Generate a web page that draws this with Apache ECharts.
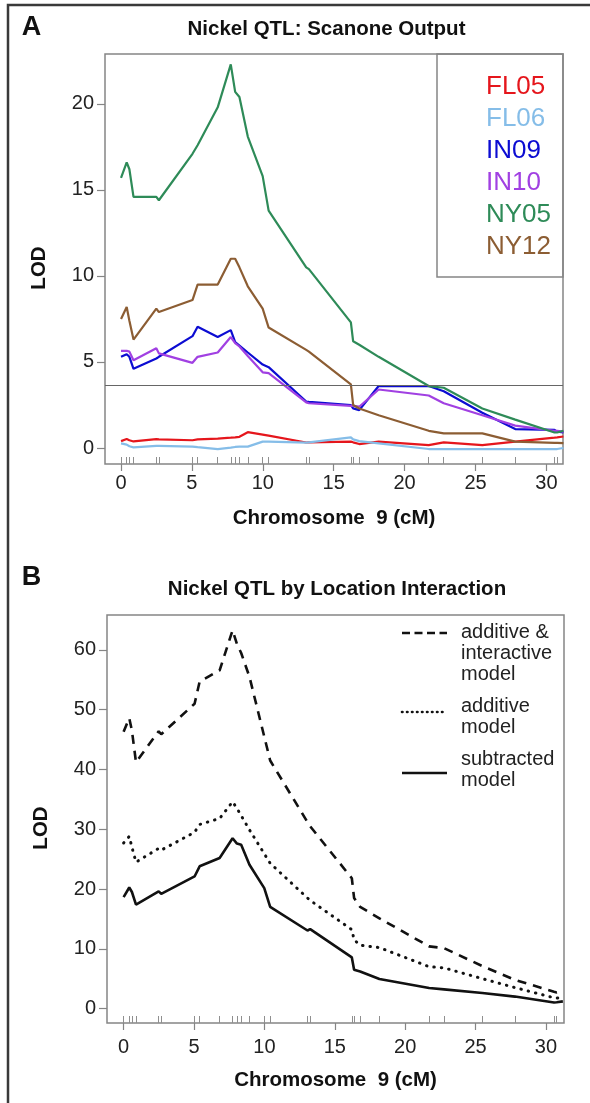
<!DOCTYPE html>
<html>
<head>
<meta charset="utf-8">
<script src="https://cdn.jsdelivr.net/npm/echarts@6.0.0/dist/echarts.min.js"></script>
<style>
    html,
    body {
        margin: 0;
        padding: 0;
        background: #fff;
    }
    #chart {
        width: 590px;
        height: 1103px;
    }
</style>
</head>
<body>
<div id="chart"></div>
<script>
// marker positions on chromosome 9 (cM), drawn as the rug
const markers = [0, 0.4, 0.59, 0.88, 2.49, 2.67, 5.04, 5.4, 6.82, 7.74, 8.05, 8.35, 8.94, 9.99, 10.41,
    13.06, 13.25, 16.21, 16.37, 16.8, 18.17, 21.7, 22.76, 25.48, 27.8, 30.57, 30.76]
// scan positions for the LOD curves
const positions = [0, 0.4, 0.59, 0.88, 2.49, 2.67, 5.04, 5.4, 6.82, 7.74, 8.05, 8.35, 8.94, 9.99, 10.41,
    13.06, 13.25, 16.21, 16.37, 16.8, 18.17, 21.7, 22.76, 25.48, 27.8, 30.57, 30.76, 31.2]

const xTicks = [0, 5, 10, 15, 20, 25, 30]
const yTicksA = [0, 5, 10, 15, 20]
const yTicksB = [0, 10, 20, 30, 40, 50, 60]
const threshold = 3.62

// panel A: scanone LOD per site
const FL05 = [0.4, 0.52, 0.45, 0.38, 0.52, 0.5, 0.45, 0.5, 0.55, 0.6, 0.62, 0.65, 0.92, 0.78, 0.72,
    0.32, 0.33, 0.37, 0.33, 0.23, 0.37, 0.17, 0.33, 0.17, 0.37, 0.6, 0.62, 0.67]
const FL06 = [0.27, 0.2, 0.1, 0.04, 0.12, 0.12, 0.08, 0.05, -0.06, 0.02, 0.06, 0.08, 0.08, 0.37, 0.37,
    0.31, 0.33, 0.62, 0.5, 0.4, 0.27, -0.06, -0.06, -0.06, -0.06, -0.06, -0.06, 0]
const IN09 = [5.3, 5.45, 5.3, 4.6, 5.2, 5.3, 6.5, 7.05, 6.45, 6.85, 6.15, 5.95, 5.55, 4.85, 4.7,
    2.7, 2.68, 2.5, 2.3, 2.2, 3.6, 3.6, 3.3, 2.05, 1.1, 1.05, 0.95, 0.9]
const IN10 = [5.65, 5.65, 5.6, 5.1, 5.8, 5.5, 4.95, 5.3, 5.55, 6.45, 6.1, 5.9, 5.35, 4.4, 4.35,
    2.65, 2.6, 2.45, 2.45, 2.4, 3.4, 3.05, 2.6, 1.9, 1.3, 1.0, 1.0, 0.95]
const NY05 = [15.7, 16.6, 16.2, 14.6, 14.6, 14.4, 17.1, 17.6, 19.8, 22.3, 20.7, 20.4, 18.1, 15.8, 13.8,
    10.5, 10.4, 7.3, 6.2, 6.0, 5.3, 3.6, 3.5, 2.3, 1.65, 0.9, 0.9, 1.0]
const NY12 = [7.5, 8.2, 7.4, 6.3, 8.1, 7.9, 8.6, 9.5, 9.5, 11.0, 11.0, 10.5, 9.4, 8.1, 7.0,
    5.7, 5.6, 3.7, 2.5, 2.3, 1.9, 1.0, 0.85, 0.85, 0.37, 0.3, 0.3, 0.28]

// panel B: QTL by location interaction
const additiveInteractive = [46.3, 48.6, 46.5, 41.2, 46.4, 45.9, 51.0, 54.7, 56.6, 63.3, 61.0, 59.5, 55.5, 45.5, 41.5,
    31.2, 30.5, 21.8, 18.5, 17.0, 15.1, 10.4, 10.1, 7.1, 4.8, 2.8, 2.7, 3.1]
const additive = [27.7, 28.8, 27.0, 24.5, 26.8, 26.5, 29.5, 30.8, 31.8, 34.6, 33.5, 32.3, 29.9, 25.9, 24.3,
    18.5, 18.1, 13.2, 11.5, 10.6, 10.2, 7.0, 6.8, 5.0, 3.5, 1.8, 1.75, 1.9]
const subtracted = [18.65, 20.25, 19.5, 17.4, 19.6, 19.2, 22.1, 23.8, 25.2, 28.5, 27.6, 27.4, 24.05, 20.15, 17.0,
    13.06, 13.3, 8.55, 6.5, 6.2, 4.93, 3.43, 3.2, 2.6, 2.0, 1.0, 1.05, 1.2]

const siteNames = ["FL05", "FL06", "IN09", "IN10", "NY05", "NY12"]
const siteColors = ["#e5161c", "#85bde8", "#0c0cd2", "#a140e2", "#2e8b58", "#8c5d33"]
const siteData = [FL05, FL06, IN09, IN10, NY05, NY12]

const FONT = '"Liberation Sans", Arial, Helvetica, sans-serif'
const AXIS_GREY = "#858585"

const pair = ys => positions.map((x, i) => [x, ys[i]])

function mainX(gridIndex, min, max, margin, nameGap) {
    return {
        type: "value",
        gridIndex: gridIndex,
        min: min,
        max: max,
        position: "bottom",
        axisLine: { show: false, onZero: false },
        splitLine: { show: false },
        axisTick: {
            show: true,
            length: 7,
            customValues: xTicks,
            lineStyle: { color: AXIS_GREY, width: 1.2 },
        },
        axisLabel: {
            customValues: xTicks,
            fontSize: 20,
            fontFamily: FONT,
            color: "#222",
            margin: margin,
        },
        name: "Chromosome  9 (cM)",
        nameLocation: "middle",
        nameGap: nameGap,
        nameTextStyle: { fontSize: 20.5, fontWeight: "bold", fontFamily: FONT, color: "#111" },
    }
}

// second x axis on the same grid, only used for the marker rug
function rugX(gridIndex, min, max) {
    return {
        type: "value",
        gridIndex: gridIndex,
        min: min,
        max: max,
        position: "bottom",
        axisLine: { show: false, onZero: false },
        splitLine: { show: false },
        axisLabel: { show: false },
        axisTick: {
            show: true,
            inside: true,
            length: 7,
            customValues: markers,
            lineStyle: { color: "#8f8f8f", width: 1 },
        },
    }
}

function mainY(gridIndex, min, max, ticks, nameGap) {
    return {
        type: "value",
        gridIndex: gridIndex,
        min: min,
        max: max,
        position: "left",
        axisLine: { show: false, onZero: false },
        splitLine: { show: false },
        axisTick: {
            show: true,
            length: 8,
            customValues: ticks,
            lineStyle: { color: AXIS_GREY, width: 1.2 },
        },
        axisLabel: {
            customValues: ticks,
            fontSize: 20,
            fontFamily: FONT,
            color: "#222",
            margin: 11,
        },
        name: "LOD",
        nameLocation: "middle",
        nameGap: nameGap,
        nameTextStyle: {
            fontSize: 20.5,
            fontWeight: "bold",
            fontFamily: FONT,
            color: "#111",
            padding: [0, 18, 0, 0],
        },
    }
}

const seriesA = siteNames.map((name, i) => ({
    name: name,
    type: "line",
    xAxisIndex: 0,
    yAxisIndex: 0,
    data: pair(siteData[i]),
    symbol: "none",
    color: siteColors[i],
    lineStyle: { color: siteColors[i], width: 2.2 },
}))
// significance threshold
seriesA[0].markLine = {
    silent: true,
    symbol: "none",
    label: { show: false },
    lineStyle: { color: "#666", width: 1.2, type: "solid" },
    data: [{ yAxis: threshold }],
}

const seriesB = [
    {
        name: "additive & interactive model",
        type: "line",
        xAxisIndex: 2,
        yAxisIndex: 1,
        data: pair(additiveInteractive),
        symbol: "none",
        lineStyle: { color: "#111", width: 2.6, type: [9, 7] },
    },
    {
        name: "additive model",
        type: "line",
        xAxisIndex: 2,
        yAxisIndex: 1,
        data: pair(additive),
        symbol: "none",
        lineStyle: { color: "#111", width: 3, type: [0.5, 7], cap: "round" },
    },
    {
        name: "subtracted model",
        type: "line",
        xAxisIndex: 2,
        yAxisIndex: 1,
        data: pair(subtracted),
        symbol: "none",
        lineStyle: { color: "#111", width: 2.6 },
    },
]

function text(x, y, str, font, extra) {
    return {
        type: "text",
        x: x,
        y: y,
        silent: true,
        style: Object.assign(
            {
                text: str,
                font: font,
                fill: "#111",
                textAlign: "center",
                textVerticalAlign: "middle",
            },
            extra || {},
        ),
    }
}

function legendLine(y, dash, cap) {
    return {
        type: "line",
        silent: true,
        shape: { x1: 402, y1: y, x2: 447, y2: y },
        style: { stroke: "#111", lineWidth: 2.6, lineDash: dash, lineCap: cap || "butt" },
    }
}

const myChart = echarts.init(document.getElementById("chart"), null, { renderer: "canvas" })
myChart.setOption({
    animation: false,
    backgroundColor: "#fff",
    grid: [
        {
            left: 105,
            top: 54,
            width: 458,
            height: 410,
            show: true,
            borderColor: AXIS_GREY,
            borderWidth: 1.5,
            backgroundColor: "transparent",
            outerBoundsMode: "none",
        },
        {
            left: 107,
            top: 615,
            width: 457,
            height: 408,
            show: true,
            borderColor: AXIS_GREY,
            borderWidth: 1.5,
            backgroundColor: "transparent",
            outerBoundsMode: "none",
        },
    ],
    xAxis: [
        mainX(0, -1.13, 31.17, 9, 44),
        rugX(0, -1.13, 31.17),
        mainX(1, -1.18, 31.28, 14, 47),
        rugX(1, -1.18, 31.28),
    ],
    yAxis: [mainY(0, -0.93, 22.9, yTicksA, 55), mainY(1, -2.42, 65.85, yTicksB, 55)],
    legend: {
        data: siteNames.map((n, i) => ({ name: n, textStyle: { color: siteColors[i] } })),
        orient: "vertical",
        left: 481,
        top: 71,
        padding: 0,
        icon: "rect",
        itemWidth: 0,
        itemHeight: 0,
        itemGap: 0,
        selectedMode: false,
        textStyle: { fontSize: 26, lineHeight: 32, fontFamily: FONT },
    },
    graphic: [
        // figure frame
        {
            type: "polyline",
            silent: true,
            shape: { points: [[8, 1103], [8, 5], [590, 5]] },
            style: { stroke: "#3a3a3a", lineWidth: 2.5, fill: null },
        },
        text(31.5, 28, "A", 'bold 27px ' + FONT),
        text(31.5, 578, "B", 'bold 27px ' + FONT),
        text(326.5, 29, "Nickel QTL: Scanone Output", 'bold 20.5px ' + FONT),
        text(337, 589, "Nickel QTL by Location Interaction", 'bold 20.5px ' + FONT),
        // legend box of panel A
        {
            type: "rect",
            silent: true,
            shape: { x: 437, y: 54, width: 126, height: 223 },
            style: { stroke: AXIS_GREY, lineWidth: 1.5, fill: null },
        },
        // legend of panel B
        legendLine(633, [8, 4.5]),
        legendLine(712, [0.5, 4.5], "round"),
        legendLine(773, null),
        text(461, 622, "additive &\ninteractive\nmodel", '20px ' + FONT,
            { textAlign: "left", textVerticalAlign: "top", lineHeight: 21, fill: "#222" }),
        text(461, 696, "additive\nmodel", '20px ' + FONT,
            { textAlign: "left", textVerticalAlign: "top", lineHeight: 21, fill: "#222" }),
        text(461, 748.5, "subtracted\nmodel", '20px ' + FONT,
            { textAlign: "left", textVerticalAlign: "top", lineHeight: 21, fill: "#222" }),
    ],
    series: seriesA.concat(seriesB),
})
window.addEventListener("resize", function () {
    myChart.resize()
})
</script>
</body>
</html>
